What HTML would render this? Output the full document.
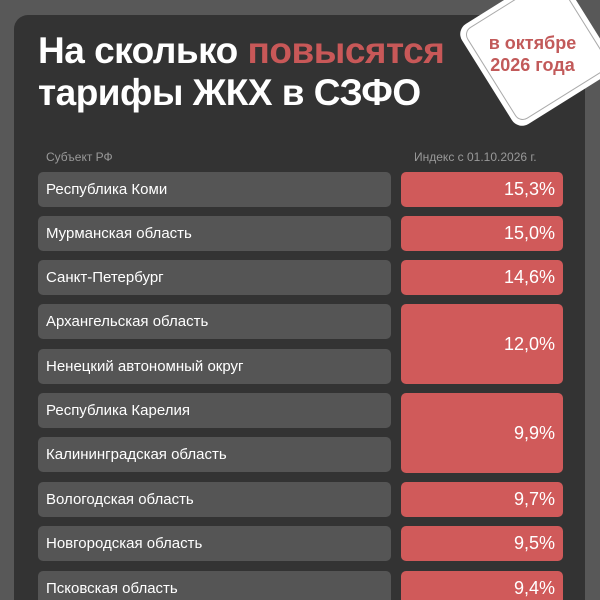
<!DOCTYPE html>
<html style="width:600px;height:600px;overflow:hidden"><head><meta charset="utf-8"><style>
body{margin:0;width:600px;height:600px;background:#585858;overflow:hidden;position:relative;font-family:"Liberation Sans","DejaVu Sans",sans-serif}
.card{position:absolute;left:14px;top:15px;width:571px;height:585px;background:#333;border-radius:14px 14px 0 0}
.t{position:absolute;left:38px;color:#fff;font-weight:bold;font-size:37px;letter-spacing:-0.5px;white-space:nowrap}
.r{color:#c85858}
.badge{position:absolute;left:478px;top:-10px;width:118px;height:118px;background:#fff;border-radius:12px;transform:rotate(-32deg)}
.badge:after{content:"";position:absolute;inset:5px;border:1px solid #aaa;border-radius:9px}
.bt{position:absolute;left:470px;top:32px;width:125px;text-align:center;color:#c25a5a;font-weight:bold;font-size:18px;line-height:22px}
.h{position:absolute;top:150px;font-size:12px;color:#999}
.l{position:absolute;left:38px;width:353px;height:35px;background:#555;border-radius:5px;color:#fff;font-size:15px;line-height:35px;padding-left:8px;box-sizing:border-box;overflow:hidden}
.v{position:absolute;left:401px;width:162px;background:#d05a5a;border-radius:5px;color:#fff;font-size:18px;text-align:right;padding-right:8px;box-sizing:border-box;display:flex;align-items:center;justify-content:flex-end;overflow:hidden}
.last{height:29px!important;border-radius:5px 5px 0 0}
</style></head><body>
<div class="card"></div>
<div class="t" style="top:30px">На сколько <span class="r">повысятся</span></div>
<div class="t" style="top:72px">тарифы ЖКХ в СЗФО</div>
<div class="badge"></div>
<div class="bt">в октябре<br>2026 года</div>
<div class="h" style="left:46px">Субъект РФ</div>
<div class="h" style="left:414px">Индекс с 01.10.2026 г.</div>
<div class="l" style="top:172px">Республика Коми</div>
<div class="l" style="top:216px">Мурманская область</div>
<div class="l" style="top:260px">Санкт-Петербург</div>
<div class="l" style="top:304px">Архангельская область</div>
<div class="l" style="top:349px">Ненецкий автономный округ</div>
<div class="l" style="top:393px">Республика Карелия</div>
<div class="l" style="top:437px">Калининградская область</div>
<div class="l" style="top:482px">Вологодская область</div>
<div class="l" style="top:526px">Новгородская область</div>
<div class="l last" style="top:571px">Псковская область</div>
<div class="v" style="top:172px;height:35px">15,3%</div>
<div class="v" style="top:216px;height:35px">15,0%</div>
<div class="v" style="top:260px;height:35px">14,6%</div>
<div class="v" style="top:304px;height:80px">12,0%</div>
<div class="v" style="top:393px;height:80px">9,9%</div>
<div class="v" style="top:482px;height:35px">9,7%</div>
<div class="v" style="top:526px;height:35px">9,5%</div>
<div class="v last" style="top:571px;align-items:flex-start;padding-top:7px">9,4%</div>
</body></html>
